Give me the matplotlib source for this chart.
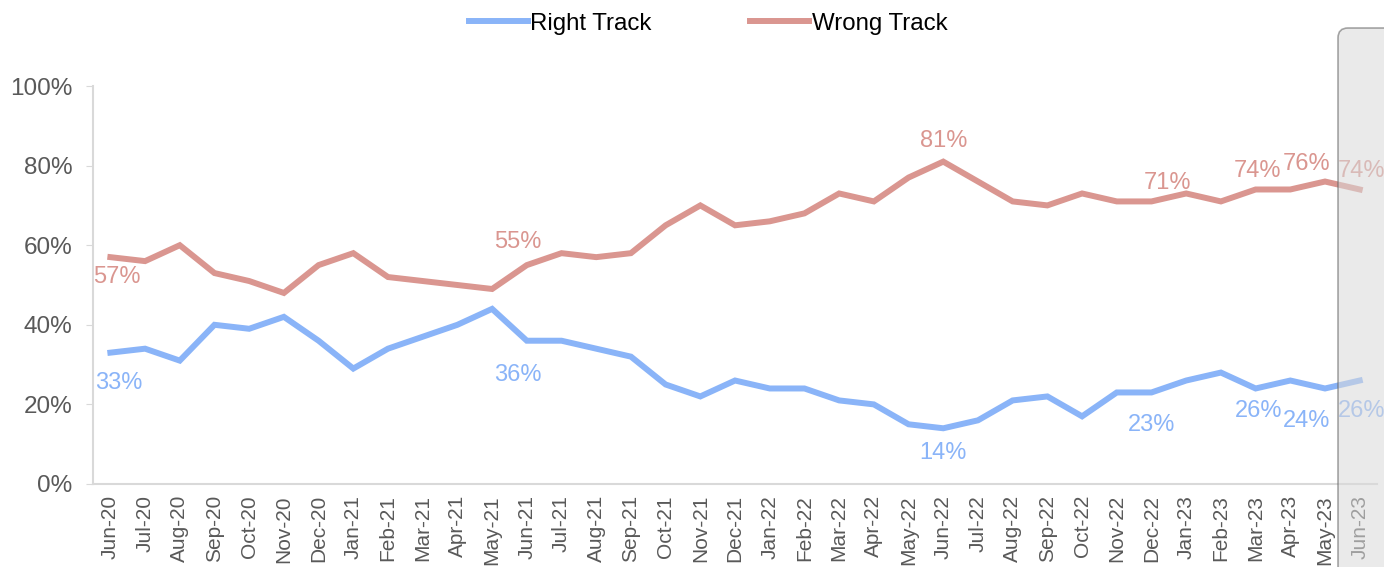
import matplotlib.pyplot as plt
from matplotlib.patches import FancyBboxPatch
from matplotlib.transforms import IdentityTransform

plt.rcParams['font.family'] = ['Liberation Sans', 'DejaVu Sans']

months = ['Jun-20', 'Jul-20', 'Aug-20', 'Sep-20', 'Oct-20', 'Nov-20', 'Dec-20',
          'Jan-21', 'Feb-21', 'Mar-21', 'Apr-21', 'May-21', 'Jun-21', 'Jul-21',
          'Aug-21', 'Sep-21', 'Oct-21', 'Nov-21', 'Dec-21', 'Jan-22', 'Feb-22',
          'Mar-22', 'Apr-22', 'May-22', 'Jun-22', 'Jul-22', 'Aug-22', 'Sep-22',
          'Oct-22', 'Nov-22', 'Dec-22', 'Jan-23', 'Feb-23', 'Mar-23', 'Apr-23',
          'May-23', 'Jun-23']

right_track = [33, 34, 31, 40, 39, 42, 36, 29, 34, 37, 40, 44, 36, 36, 34, 32,
               25, 22, 26, 24, 24, 21, 20, 15, 14, 16, 21, 22, 17, 23, 23, 26,
               28, 24, 26, 24, 26]
wrong_track = [57, 56, 60, 53, 51, 48, 55, 58, 52, 51, 50, 49, 55, 58, 57, 58,
               65, 70, 65, 66, 68, 73, 71, 77, 81, 76, 71, 70, 73, 71, 71, 73,
               71, 74, 74, 76, 74]

# which points get a data label, and where the label sits (pixel offset)
right_labels = [(0, 8, -30), (12, -9, -34), (24, 0, -25), (30, 0, -33),
                (34, -32, -30), (35, -18, -33), (36, 2, -30)]
wrong_labels = [(0, 7, -20), (12, -9, 23), (24, 0, 21), (30, 16, 18),
                (33, 2, 18), (35, -18, 18), (36, 2, 18)]

blue = '#8ab4f8'
red = '#da9690'

fig = plt.figure(figsize=(13.84, 5.67), dpi=100)
ax = fig.add_axes([0.0672, 0.1464, 0.9278, 0.7019])

x = range(len(months))
ax.plot(x, right_track, color=blue, lw=4.3, label='Right Track', solid_joinstyle='miter')
ax.plot(x, wrong_track, color=red, lw=4.3, label='Wrong Track', solid_joinstyle='miter')

for i, dx, dy in right_labels:
    ax.annotate(f'{right_track[i]}%', (i, right_track[i]), xytext=(dx, dy),
                textcoords='offset pixels', ha='center', va='center',
                fontsize=17, color=blue)
for i, dx, dy in wrong_labels:
    ax.annotate(f'{wrong_track[i]}%', (i, wrong_track[i]), xytext=(dx, dy),
                textcoords='offset pixels', ha='center', va='center',
                fontsize=17, color=red)

ax.set_xlim(-0.5, len(months) - 0.5)
ax.set_ylim(0, 100)
ax.set_yticks(range(0, 101, 20))
ax.set_yticklabels([f'{v}%' for v in range(0, 101, 20)])
ax.set_xticks(list(x))
ax.set_xticklabels(months, rotation=90)
ax.tick_params(axis='y', labelsize=17.5, labelcolor='#595959', color='#d9d9d9',
               length=5, pad=10)
ax.tick_params(axis='x', labelsize=15, labelcolor='#595959', length=0, pad=8)
for side in ['top', 'right']:
    ax.spines[side].set_visible(False)
for side in ['left', 'bottom']:
    ax.spines[side].set_color('#d9d9d9')
    ax.spines[side].set_linewidth(1.5)

fig.legend(loc='center', bbox_to_anchor=(0.5116, 0.958), ncol=2, frameon=False,
           fontsize=17.3, handlelength=2.46, handletextpad=0.1, columnspacing=4.1)

# highlighted last month
box = FancyBboxPatch((1338, -20), 80, 559, boxstyle='round,pad=0,rounding_size=10',
                     transform=IdentityTransform(), facecolor='#d9d9d9', alpha=0.55,
                     edgecolor='#606060', linewidth=1.2, zorder=10)
fig.patches.append(box)

fig.savefig('out.png', dpi=100)
